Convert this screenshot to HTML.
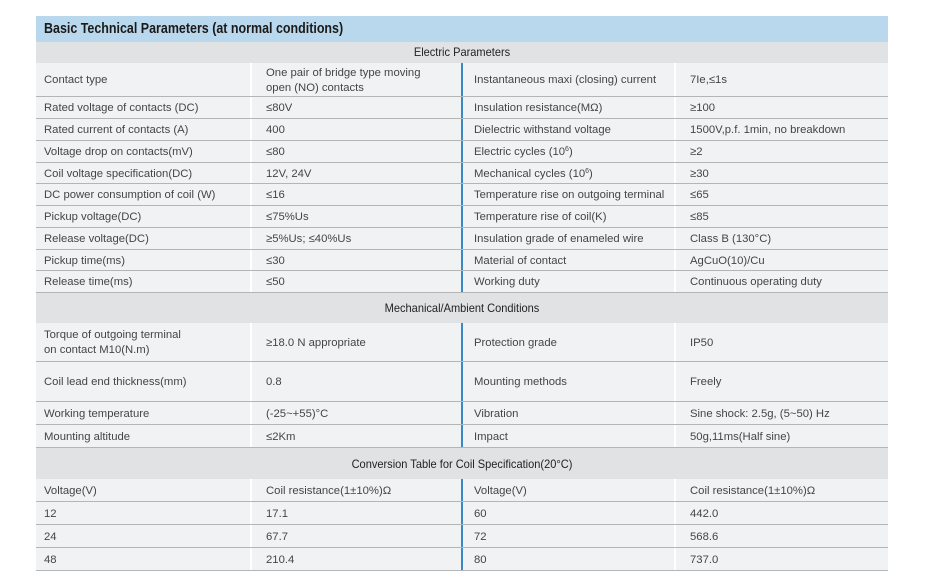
<!DOCTYPE html>
<html><head><meta charset="utf-8"><style>
body{margin:0;width:928px;height:588px;background:#fff;position:relative;overflow:hidden;font-family:"Liberation Sans","Noto Sans CJK SC",sans-serif;}
.b{position:absolute;left:36px;width:852px;}
.t{top:16px;height:26px;background:#b9d8ed;}
.t span{position:absolute;left:8px;top:5px;font-weight:bold;font-size:14.5px;color:#1a1a1a;transform:scaleX(0.86);transform-origin:left;white-space:nowrap;}
.h{background:#e1e2e4;}
.h span{position:absolute;left:0;width:852px;text-align:center;font-size:12px;color:#222;transform:scaleX(0.92);}
.r{background:#f1f2f4;border-bottom:1px solid #b4b5b7;box-sizing:border-box;}
.c{position:absolute;font-size:11.3px;color:#454545;line-height:15px;white-space:nowrap;}
.c sup{font-size:7px;line-height:0;vertical-align:4px;}
.v1{position:absolute;left:214px;top:0;bottom:0;width:2px;background:#fff;}
.v2{position:absolute;left:425px;top:0;bottom:0;width:2px;background:#3a89c4;}
.v3{position:absolute;left:638px;top:0;bottom:0;width:2px;background:#fff;}
</style></head><body>
<div class="b t"><span>Basic Technical Parameters (at normal conditions)</span></div>
<div class="b h" style="top:42px;height:21px"><span style="top:3px">Electric Parameters</span></div>
<div class="b h" style="top:293px;height:30px"><span style="top:8px">Mechanical/Ambient Conditions</span></div>
<div class="b h" style="top:448px;height:31px"><span style="top:9px">Conversion Table for Coil Specification(20°C)</span></div>
<div id="rows"></div>
<script>
const rows=[
[63,34,"Contact type","One pair of bridge type moving<br>open (NO) contacts","Instantaneous maxi (closing) current","7Ie,≤1s"],
[97,22,"Rated voltage of contacts (DC)","≤80V","Insulation resistance(MΩ)","≥100"],
[119,22,"Rated current of contacts (A)","400","Dielectric withstand voltage","1500V,p.f. 1min, no breakdown"],
[141,22,"Voltage drop on contacts(mV)","≤80","Electric cycles (10<sup>6</sup>)","≥2"],
[163,21,"Coil voltage specification(DC)","12V, 24V","Mechanical cycles (10<sup>6</sup>)","≥30"],
[184,22,"DC power consumption of coil (W)","≤16","Temperature rise on outgoing terminal","≤65"],
[206,22,"Pickup voltage(DC)","≤75%Us","Temperature rise of coil(K)","≤85"],
[228,22,"Release voltage(DC)","≥5%Us; ≤40%Us","Insulation grade of enameled wire","Class B (130°C)"],
[250,21,"Pickup time(ms)","≤30","Material of contact","AgCuO(10)/Cu"],
[271,22,"Release time(ms)","≤50","Working duty","Continuous operating duty"],
[323,39,"Torque of outgoing terminal<br>on contact M10(N.m)","≥18.0 N appropriate","Protection grade","IP50"],
[362,40,"Coil lead end thickness(mm)","0.8","Mounting methods","Freely"],
[402,23,"Working temperature","(-25~+55)°C","Vibration","Sine shock: 2.5g, (5~50) Hz"],
[425,23,"Mounting altitude","≤2Km","Impact","50g,11ms(Half sine)"],
[479,23,"Voltage(V)","Coil resistance(1±10%)Ω","Voltage(V)","Coil resistance(1±10%)Ω"],
[502,23,"12","17.1","60","442.0"],
[525,23,"24","67.7","72","568.6"],
[548,23,"48","210.4","80","737.0"]];
let h="";
for(const r of rows){
 const [top,ht,a,b,c,d]=r;
 const m=(x,s)=>{const lines=s.includes("<br>")?2:1;const tt=Math.round((ht-1-15*lines)/2)+1;return `<div class="c" style="left:${x}px;top:${tt}px">${s}</div>`};
 h+=`<div class="b r" style="top:${top}px;height:${ht}px"><div class="v1"></div><div class="v2"></div><div class="v3"></div>${m(8,a)}${m(230,b)}${m(438,c)}${m(654,d)}</div>`;
}
document.getElementById("rows").innerHTML=h;
</script>
</body></html>
